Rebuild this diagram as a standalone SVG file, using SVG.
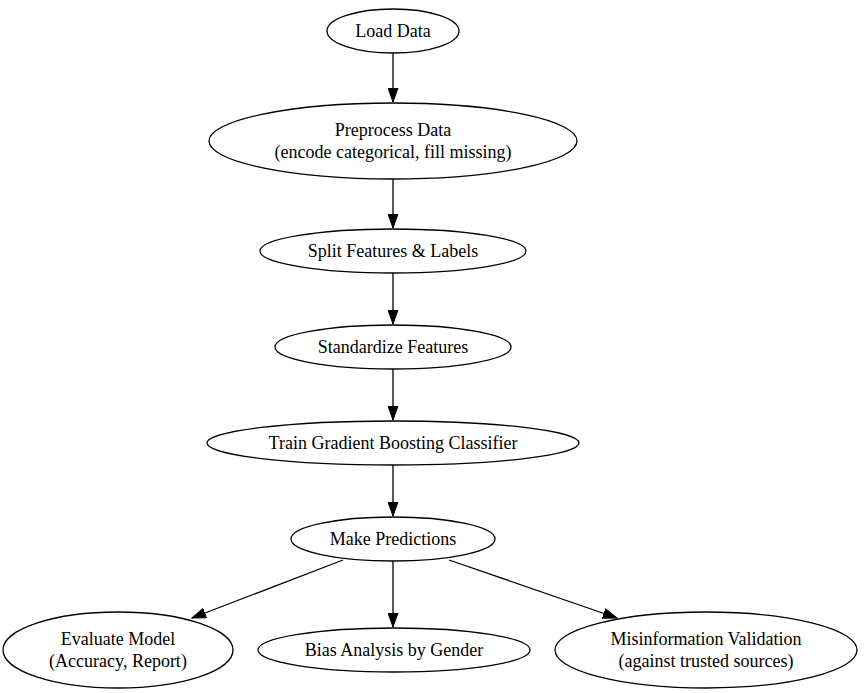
<svg xmlns="http://www.w3.org/2000/svg" width="864" height="693" viewBox="0 0 864 693">
<style>
.n ellipse{fill:#fff;stroke:#000;stroke-width:1.3}
.n text{font-family:"Liberation Serif","Times New Roman",serif;font-size:18px;text-anchor:middle;fill:#000}
.e line{stroke:#000;stroke-width:1.3;marker-end:url(#ah)}
</style>
<defs>
<marker id="ah" markerUnits="userSpaceOnUse" markerWidth="15" markerHeight="11" refX="14" refY="5.5" orient="auto" viewBox="0 0 15 11">
<path d="M0,0.5 L14,5.5 L0,10.5 z" fill="#000" stroke="#000" stroke-width="1"/>
</marker>
</defs>
<rect width="864" height="693" fill="#fff"/>
<g id="edges" class="e">
<line x1="393" y1="53" x2="393" y2="102"/>
<line x1="393" y1="179" x2="393" y2="228"/>
<line x1="393" y1="273" x2="393" y2="324"/>
<line x1="393" y1="369" x2="393" y2="420"/>
<line x1="393" y1="465" x2="393" y2="516"/>
<line x1="343" y1="560" x2="192" y2="618"/>
<line x1="393" y1="561" x2="393" y2="627"/>
<line x1="449" y1="560" x2="617" y2="618"/>
</g>
<g id="load" class="n"><ellipse cx="393" cy="31" rx="66" ry="22"/><text x="393" y="37">Load Data</text></g>
<g id="preprocess" class="n"><ellipse cx="393" cy="141" rx="184" ry="38"/><text x="393" y="136">Preprocess Data</text><text x="393" y="158">(encode categorical, fill missing)</text></g>
<g id="split" class="n"><ellipse cx="393" cy="251" rx="133" ry="22"/><text x="393" y="257">Split Features &amp; Labels</text></g>
<g id="standardize" class="n"><ellipse cx="393" cy="347" rx="118" ry="22"/><text x="393" y="353">Standardize Features</text></g>
<g id="train" class="n"><ellipse cx="393" cy="443" rx="186" ry="22"/><text x="393" y="449">Train Gradient Boosting Classifier</text></g>
<g id="predict" class="n"><ellipse cx="393" cy="539" rx="102" ry="22"/><text x="393" y="545">Make Predictions</text></g>
<g id="evaluate" class="n"><ellipse cx="118" cy="650" rx="115" ry="38"/><text x="118" y="645">Evaluate Model</text><text x="118" y="667">(Accuracy, Report)</text></g>
<g id="bias" class="n"><ellipse cx="394" cy="650" rx="136" ry="22"/><text x="394" y="656">Bias Analysis by Gender</text></g>
<g id="misinfo" class="n"><ellipse cx="706" cy="650" rx="151" ry="38"/><text x="706" y="645">Misinformation Validation</text><text x="706" y="667">(against trusted sources)</text></g>
</svg>
